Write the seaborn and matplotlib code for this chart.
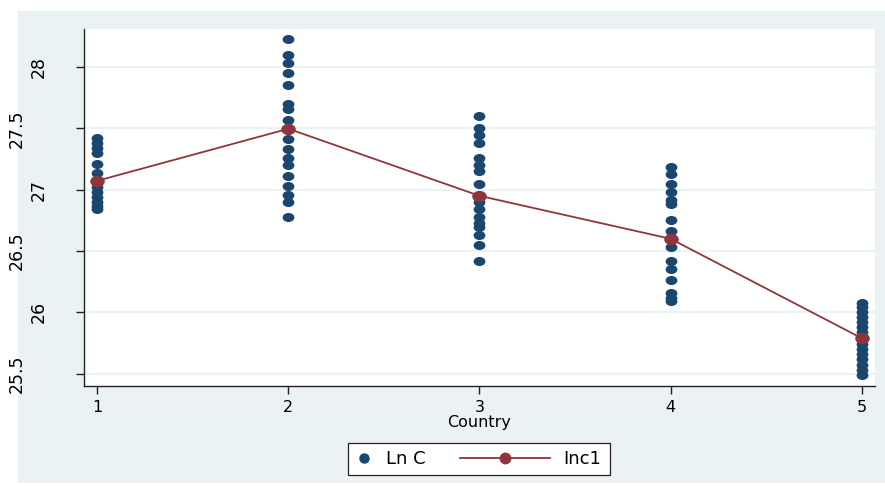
import numpy as np
import pandas as pd
import matplotlib
matplotlib.use("Agg")
import matplotlib.pyplot as plt
import seaborn as sns
from matplotlib.path import Path
from matplotlib.patches import Rectangle
from matplotlib.lines import Line2D

lnc_1 = [27.42, 27.38, 27.34, 27.30, 27.21, 27.14, 27.08, 27.02, 26.98, 26.94, 26.90, 26.87, 26.84]
lnc_2 = [28.23, 28.10, 28.03, 27.955, 27.85, 27.70, 27.66, 27.57, 27.50, 27.41, 27.33, 27.26,
         27.20, 27.11, 27.03, 26.96, 26.90, 26.78]
lnc_3 = [27.60, 27.50, 27.45, 27.38, 27.26, 27.20, 27.15, 27.05, 26.95, 26.90, 26.84, 26.78,
         26.73, 26.70, 26.63, 26.55, 26.42]
lnc_4 = [27.185, 27.13, 27.05, 26.98, 26.92, 26.88, 26.75, 26.66, 26.60, 26.53, 26.42, 26.35,
         26.26, 26.16, 26.12, 26.09]
lnc_5 = [26.08, 26.04, 26.00, 25.96, 25.92, 25.88, 25.84, 25.79, 25.74, 25.70, 25.66, 25.62,
         25.57, 25.53, 25.49]

# Inc1 fitted values per country
countries = [1, 2, 3, 4, 5]
inc1 = [27.073, 27.497, 26.95, 26.60, 25.79]

y_ticks = [25.5, 26, 26.5, 27, 27.5, 28]
y_labels = ["25.5", "26", "26.5", "27", "27.5", "28"]

navy = "#1A476F"
maroon = "#90353B"
bg = "#EAF2F3"

scatter_df = pd.DataFrame({
    "Country": np.repeat(countries, [len(lnc_1), len(lnc_2), len(lnc_3), len(lnc_4), len(lnc_5)]),
    "LnC": lnc_1 + lnc_2 + lnc_3 + lnc_4 + lnc_5,
})
line_df = pd.DataFrame({"Country": countries, "Inc1": inc1})

# slightly wide ellipse marker (the reference looks stretched horizontally)
circ = Path.unit_circle()
ellipse = Path(circ.vertices * np.array([1.3, 1.0]), circ.codes)

plt.rcParams["font.family"] = ["DejaVu Sans"]

fig = plt.figure(figsize=(8.85, 4.86), dpi=100)
fig.patch.set_facecolor("white")
fig.patches.append(Rectangle((18 / 885, 3 / 486), 1 - 18 / 885, 1 - 14 / 486,
                             transform=fig.transFigure, facecolor=bg, edgecolor="none", zorder=-10))

ax = fig.add_axes([84 / 885, 100 / 486, (875 - 84) / 885, (386 - 29) / 486])
ax.set_facecolor("white")

for y in y_ticks:
    ax.axhline(y, color=bg, lw=1.6, zorder=0)

sns.scatterplot(data=scatter_df, x="Country", y="LnC", ax=ax, color=navy, marker=ellipse,
                s=72, linewidth=0, zorder=3, legend=False)
sns.lineplot(data=line_df, x="Country", y="Inc1", ax=ax, color=maroon, lw=1.3,
             marker=ellipse, markersize=10.5, markeredgewidth=0, zorder=4, legend=False)

ax.set_xlim(0.93, 5.07)
ax.set_ylim(25.40, 28.31)
ax.set_xticks(countries)
ax.set_xticklabels([str(c) for c in countries], fontsize=11.5)
ax.set_yticks(y_ticks)
ax.set_yticklabels(y_labels, fontsize=12.5, rotation=90, va="center")
ax.tick_params(axis="both", direction="out", length=6, width=1, color="#222222")
ax.tick_params(axis="x", pad=4)

# half-unit labels sit further left in the reference
for tick, val in zip(ax.yaxis.get_major_ticks(), y_ticks):
    tick.set_pad(20 if float(val).is_integer() else 36)

ax.set_xlabel("Country", fontsize=11.5, labelpad=0)
ax.set_ylabel("")

for side in ["top", "right"]:
    ax.spines[side].set_visible(False)
for side in ["left", "bottom"]:
    ax.spines[side].set_color("#222222")
    ax.spines[side].set_linewidth(1)

# legend: frame plus two entries
fig.patches.append(Rectangle((348 / 885, 11 / 486), (610 - 348) / 885, 32 / 486,
                             transform=fig.transFigure, facecolor="white", edgecolor="#222222",
                             lw=0.9, zorder=5))
dot = Line2D([], [], color=navy, marker="o", linestyle="none", markersize=6.5)
fit = Line2D([], [], color=maroon, marker="o", lw=1.3, markersize=7.5)
leg1 = fig.legend([dot], ["Ln C"], loc="center left", bbox_to_anchor=(355 / 885, 27 / 486),
                  frameon=False, handlelength=1.0, handletextpad=0.7, borderpad=0,
                  borderaxespad=0, fontsize=13)
leg2 = fig.legend([fit], ["Inc1"], loc="center left", bbox_to_anchor=(460 / 885, 27 / 486),
                  frameon=False, handlelength=5.0, handletextpad=0.7, borderpad=0,
                  borderaxespad=0, fontsize=13)
leg1.set_zorder(6)
leg2.set_zorder(6)

fig.savefig("out.png", dpi=100)
